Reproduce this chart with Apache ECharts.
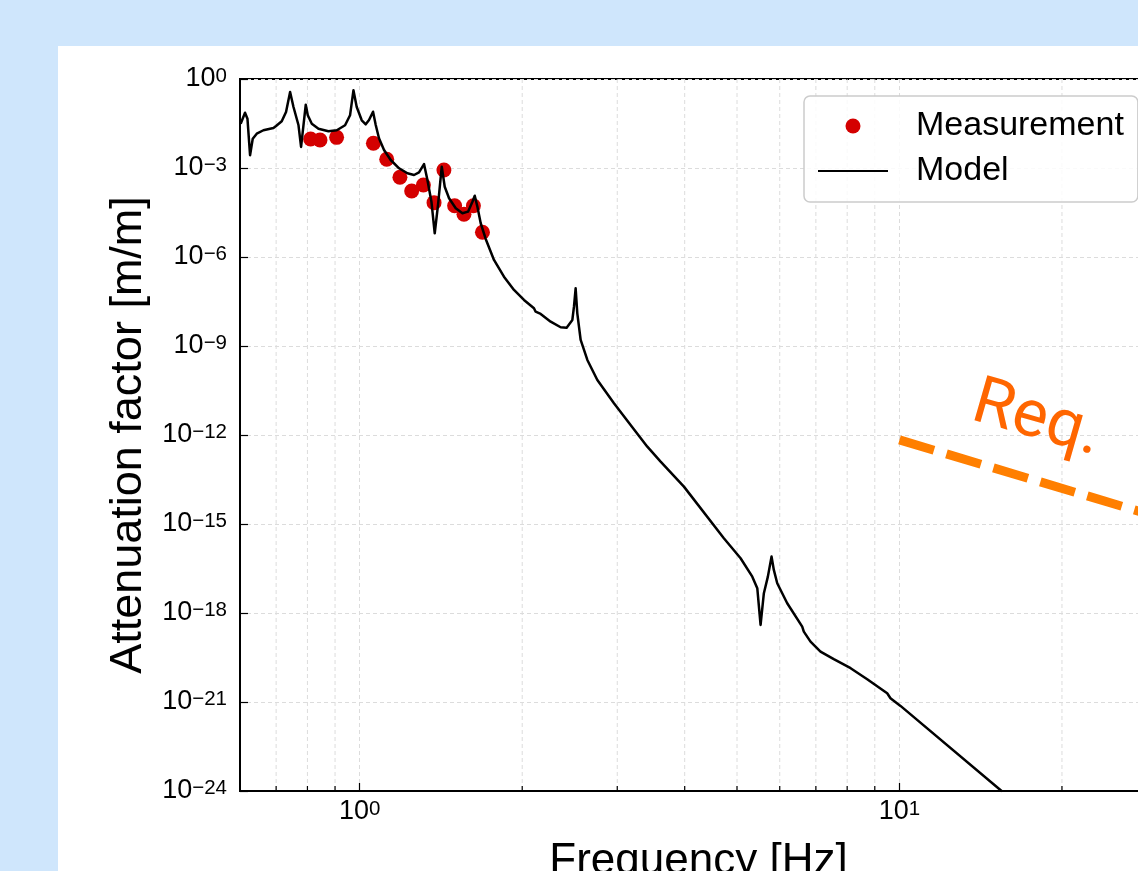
<!DOCTYPE html>
<html><head><meta charset="utf-8">
<script src="https://cdn.jsdelivr.net/npm/echarts@6/dist/echarts.min.js"></script>
<style>
html,body{margin:0;padding:0;background:#cfe6fc;width:1138px;height:871px;overflow:hidden;}
#panel{position:absolute;left:58px;top:46px;right:0;bottom:0;background:#fff;}
#chart{position:absolute;left:0;top:0;width:1138px;height:871px;}
</style></head><body>
<div id="panel"></div>
<div id="chart"></div>
<script>
// ---- data ----
const measFreq = [0.811, 0.844, 0.906, 1.060, 1.122, 1.187, 1.248, 1.312, 1.373, 1.432, 1.499, 1.560, 1.624, 1.688];
const measAmp  = [9.5e-3, 8.8e-3, 1.08e-2, 6.8e-3, 1.96e-3, 4.85e-4, 1.68e-4, 2.67e-4, 6.77e-5, 8.57e-4, 5.36e-5, 2.75e-5, 5.36e-5, 6.8e-6];

const modelFreq = [0.6017, 0.6130, 0.6194, 0.6263, 0.6335, 0.6444, 0.6630, 0.6821, 0.6920, 0.6998, 0.7169, 0.7302, 0.7430, 0.7538, 0.7701, 0.7786, 0.7943, 0.8012, 0.8150, 0.8386, 0.8750, 0.9067, 0.9393, 0.9595, 0.9735, 0.9872, 1.0086, 1.0259, 1.0404, 1.0584, 1.0706, 1.0856, 1.1092, 1.1413, 1.1826, 1.2256, 1.2607, 1.2877, 1.3155, 1.3348, 1.3578, 1.3770, 1.3965, 1.4189, 1.4370, 1.4638, 1.5062, 1.5498, 1.5873, 1.6173, 1.6334, 1.6520, 1.6754, 1.7114, 1.7731, 1.8501, 1.9311, 2.0151, 2.1028, 2.1179, 2.1638, 2.2581, 2.3563, 2.4172, 2.4770, 2.4941, 2.5119, 2.5298, 2.5663, 2.6406, 2.7556, 2.9580, 3.1756, 3.4105, 3.6095, 3.9866, 4.7273, 5.0768, 5.3371, 5.4519, 5.5290, 5.6073, 5.7038, 5.7943, 5.8507, 5.9362, 6.1944, 6.6037, 6.6494, 6.8418, 7.1395, 7.5560, 8.1189, 8.7142, 9.4895, 9.5543, 9.6228, 10.044, 15.499];
const modelAmp  = [3.11e-2, 7.31e-2, 4.59e-2, 2.68e-3, 9.72e-3, 1.43e-2, 1.87e-2, 2.11e-2, 2.23e-2, 2.61e-2, 3.75e-2, 7.72e-2, 0.365, 0.114, 2.75e-2, 5.11e-3, 0.136, 5.97e-2, 3.11e-2, 2.11e-2, 1.73e-2, 1.87e-2, 2.75e-2, 5.97e-2, 0.416, 0.114, 4.06e-2, 2.97e-2, 4.15e-2, 7.91e-2, 2.81e-2, 1.00e-2, 4.04e-3, 1.86e-3, 9.77e-4, 6.62e-4, 5.81e-4, 7.16e-4, 1.36e-3, 3.94e-4, 7.31e-5, 6.30e-6, 5.66e-5, 1.11e-3, 2.34e-4, 9.53e-5, 4.38e-5, 2.97e-5, 3.37e-5, 7.31e-5, 1.16e-4, 4.96e-5, 1.37e-5, 4.05e-6, 7.93e-7, 2.17e-7, 7.73e-8, 3.56e-8, 1.87e-8, 1.43e-8, 1.20e-8, 6.59e-9, 4.27e-9, 4.14e-9, 7.52e-9, 2.11e-8, 8.81e-8, 1.26e-8, 1.59e-9, 3.37e-10, 7.14e-11, 1.17e-11, 2.17e-12, 4.03e-13, 1.26e-13, 1.81e-14, 3.30e-16, 6.98e-17, 1.67e-17, 6.81e-18, 3.94e-19, 4.61e-18, 1.67e-17, 7.91e-17, 2.81e-17, 1.00e-17, 2.12e-18, 3.45e-19, 2.34e-19, 1.08e-19, 4.97e-20, 2.75e-20, 1.37e-20, 5.82e-21, 1.96e-21, 2.09e-21, 1.33e-21, 7.33e-22, 9.48e-25];

const reqFreq = [10, 30];
const reqAmp  = [6.8e-13, 1.75e-15];
const reqLabelText = 'Req.';
const reqLabelFreq = [17.94];
const reqLabelAmp  = [2.96e-12];

const xRange = [0.6, 30];
const yRange = [0.99e-24, 1];
const minorGridFreq = [0.7, 0.8, 0.9, 2, 3, 4, 5, 6, 7, 8, 9, 20];

const seriesNames = ['Measurement', 'Model'];
const xTitle = 'Frequency [Hz]';
const yTitle = 'Attenuation factor [m/m]';

// ---- chart ----
const FONT = '"Liberation Sans", Arial, Helvetica, sans-serif';
function pow10Label(v) {
  const e = Math.log10(v), r = Math.round(e);
  if (Math.abs(e - r) > 1e-6) return '';
  const s = r < 0 ? '\u2212' + (-r) : String(r);
  return '{b|10}{s|' + s + '}';
}
const richTick = {
  b: { fontSize: 27, lineHeight: 26, fontFamily: FONT, color: '#000' },
  s: { fontSize: 20.5, lineHeight: 11, verticalAlign: 'top', fontFamily: FONT, color: '#000' }
};
const gridLine = { show: true, lineStyle: { color: '#dcdcdc', width: 1, type: [4, 3] } };

const chart = echarts.init(document.getElementById('chart'), null, { renderer: 'canvas' });
chart.setOption({
  animation: false,
  backgroundColor: 'transparent',
  grid: { left: 240, top: 79, width: 917, height: 712, outerBoundsMode: 'none', containLabel: false,
          show: true, borderColor: '#000', borderWidth: 2, backgroundColor: 'transparent' },
  legend: {
    data: [{ name: seriesNames[0] }, { name: seriesNames[1], itemStyle: { opacity: 0 } }],
    orient: 'vertical', left: 804, top: 96,
    itemWidth: 70, itemHeight: 15, itemGap: 9,
    padding: [12, 14, 13, 13],
    backgroundColor: 'rgba(255,255,255,0.85)', borderColor: '#cccccc', borderWidth: 1.5, borderRadius: 6,
    textStyle: { fontSize: 34, lineHeight: 36, fontFamily: FONT, color: '#000', padding: [0, 0, 0, 23] },
    selectedMode: false
  },
  xAxis: {
    type: 'log', logBase: 10, min: xRange[0], max: xRange[1],
    name: xTitle, nameLocation: 'middle', nameGap: 49, nameMoveOverlap: false,
    nameTextStyle: { fontSize: 44, fontFamily: FONT, color: '#000' },
    axisLine: { lineStyle: { color: '#000', width: 2 } },
    axisTick: { inside: true, length: 8, lineStyle: { color: '#000', width: 1.2 } },
    axisLabel: { margin: 8, formatter: pow10Label, rich: richTick, showMinLabel: false, showMaxLabel: false, hideOverlap: false },
    splitLine: gridLine
  },
  yAxis: {
    type: 'log', logBase: 1000, min: yRange[0], max: yRange[1],
    name: yTitle, nameLocation: 'middle', nameGap: 89, nameRotate: 90, nameMoveOverlap: false,
    nameTextStyle: { fontSize: 45, fontFamily: FONT, color: '#000' },
    axisLine: { lineStyle: { color: '#000', width: 2 } },
    axisTick: { inside: true, length: 8, lineStyle: { color: '#000', width: 1.2 } },
    axisLabel: { margin: 13, formatter: pow10Label, rich: richTick, hideOverlap: false },
    splitLine: gridLine
  },
  series: [
    {
      type: 'custom', name: 'minor', z: 1, silent: true,
      data: minorGridFreq.map(f => [f, 1]),
      encode: { x: 0, y: 1 },
      renderItem: function (params, api) {
        const f = api.value(0);
        const t = api.coord([f, yRange[1]]);
        const b = api.coord([f, yRange[0]]);
        return { type: 'group', children: [
          { type: 'line', shape: { x1: t[0], y1: t[1], x2: b[0], y2: b[1] }, style: { stroke: '#dcdcdc', lineWidth: 1, lineDash: [4, 3] } },
          { type: 'line', shape: { x1: b[0], y1: b[1], x2: b[0], y2: b[1] - 5 }, style: { stroke: '#000', lineWidth: 1.2 } }
        ] };
      }
    },
    {
      type: 'scatter', name: seriesNames[0], z: 3,
      data: measFreq.map((f, i) => [f, measAmp[i]]),
      symbol: 'circle', symbolSize: 15,
      itemStyle: { color: '#d40000', opacity: 1 }
    },
    {
      type: 'line', name: seriesNames[1], z: 4,
      data: modelFreq.map((f, i) => [f, modelAmp[i]]),
      symbol: 'none', showSymbol: false,
      lineStyle: { color: '#000', width: 2.5, join: 'round' },
      itemStyle: { color: '#000' }
    },
    {
      type: 'line', name: 'req', z: 4,
      data: reqFreq.map((f, i) => [f, reqAmp[i]]),
      symbol: 'none', showSymbol: false,
      lineStyle: { color: '#ff7f00', width: 9, type: [36, 13], cap: 'butt' }
    },
    {
      type: 'scatter', name: 'reqLabel', z: 5, silent: true,
      data: reqLabelFreq.map((f, i) => [f, reqLabelAmp[i]]),
      symbolSize: 2, itemStyle: { color: 'rgba(0,0,0,0)', opacity: 1 },
      label: { show: true, position: 'inside', formatter: reqLabelText, rotate: -16,
        fontSize: 66, fontFamily: 'Roboto, sans-serif', color: '#ff6600' }
    }
  ]
});
</script>
</body></html>
